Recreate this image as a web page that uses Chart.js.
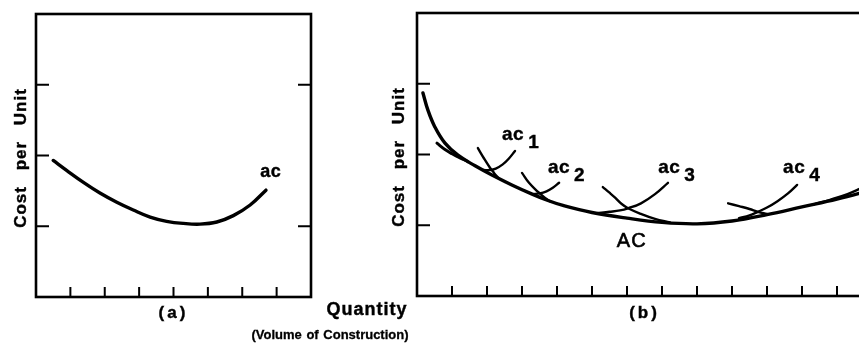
<!DOCTYPE html>
<html><head><meta charset="utf-8">
<script src="https://cdn.jsdelivr.net/npm/chart.js@4.4.1/dist/chart.umd.min.js"></script>
<style>
html,body{margin:0;padding:0;background:#fff;overflow:hidden;}
#wrap{position:relative;width:859px;height:347px;overflow:hidden;background:#fff;}
#cA{position:absolute;left:0;top:0;}
#cB{position:absolute;left:240px;top:0;}
</style></head><body>
<div id="wrap"><canvas id="cA" width="330" height="347"></canvas><canvas id="cB" width="650" height="347"></canvas></div>
<script>
// ---------- Panel (a) data ----------
const acA_x = [0.50,0.89,1.38,1.86,2.35,2.83,3.32,3.80,4.29,4.77,5.26,5.74,6.23,6.69];
const acA_y = [1.93,1.79,1.62,1.47,1.34,1.23,1.13,1.07,1.04,1.03,1.06,1.15,1.30,1.51];
const A_xTicks = [1,2,3,4,5,6,7];
const A_yTicksLeft = [1,2,3];
const A_yTicksRight = [1,3];

// ---------- Panel (b) data ----------
const AC_x = [0.17,0.31,0.51,0.80,1.17,1.66,2.14,2.71,3.29,3.74,4.17,5.0,6.0,7.0,8.0,9.0,10.0,11.0,12.0,13.0];
const AC_y = [2.87,2.63,2.39,2.16,1.99,1.84,1.71,1.57,1.44,1.35,1.28,1.18,1.10,1.04,1.02,1.06,1.15,1.26,1.37,1.50];
const ac0_x = [0.57,0.80,1.00,1.20,1.45];
const ac0_y = [2.16,2.07,2.01,1.96,1.90];
const ac1Fall_x = [1.74,1.92,2.09,2.20,2.32];
const ac1Fall_y = [2.09,1.94,1.81,1.74,1.67];
const ac1Rise_x = [1.90,2.08,2.25,2.45,2.62,2.80];
const ac1Rise_y = [1.78,1.78,1.80,1.86,1.94,2.05];
const ac2Fall_x = [3.00,3.20,3.46,3.65,3.80];
const ac2Fall_y = [1.74,1.60,1.47,1.39,1.34];
const ac2Rise_x = [3.30,3.50,3.70,3.88,4.06];
const ac2Rise_y = [1.44,1.45,1.48,1.53,1.60];
const ac3Fall_x = [5.31,5.50,5.66,5.85,6.03,6.40,6.80,7.23];
const ac3Fall_y = [1.54,1.46,1.39,1.30,1.24,1.16,1.09,1.04];
const ac3Rise_x = [5.14,5.50,5.80,6.03,6.40,6.80,7.17];
const ac3Rise_y = [1.17,1.19,1.21,1.24,1.31,1.44,1.60];
const ac4Fall_x = [8.89,9.20,9.50,9.74,10.0];
const ac4Fall_y = [1.31,1.27,1.23,1.19,1.16];
const ac4Rise_x = [9.20,9.50,9.74,10.0,10.3,10.6,10.86];
const ac4Rise_y = [1.10,1.14,1.19,1.25,1.34,1.45,1.57];
const ac5_x = [11.3,11.8,12.3,12.63,13.0];
const ac5_y = [1.29,1.36,1.44,1.51,1.60];
const B_xTicks = [1,2,3,4,5,6,7,8,9,10,11,12];
const B_yTicksLeft = [1,2,3];
const B_yTicksRight = [1,2,3];

// text
const yTitle = 'Cost per Unit';
const xTitleA = '(a)';
const xTitleB = '(b)';
const quantityText = 'Quantity';
const volumeText = '(Volume of Construction)';
const labelA = {text:'ac', x:6.52, y:1.70};
const labelsB = [
  {text:'ac', sub:'1', x:2.43, y:2.20},
  {text:'ac', sub:'2', x:3.74, y:1.74},
  {text:'ac', sub:'3', x:6.89, y:1.74},
  {text:'ac', sub:'4', x:10.46, y:1.74}
];
const labelAC = {text:'AC', x:5.71, y:0.69};

const FONT = '"Liberation Sans", Arial, Helvetica, sans-serif';
const pts = (xs, ys) => xs.map((x,i)=>({x, y: ys[i]}));
function ds(xs, ys, w){
  return {data: pts(xs,ys), borderColor:'#000', borderWidth:w, pointRadius:0,
          fill:false, tension:0.4, borderCapStyle:'round', borderJoinStyle:'round'};
}
function txt(ctx, s, x, y, font, align, spacing, wordSp, strokeW){
  ctx.save();
  ctx.font = font;
  ctx.fillStyle = '#000';
  ctx.strokeStyle = '#000';
  ctx.textAlign = align || 'left';
  ctx.textBaseline = 'alphabetic';
  if ('letterSpacing' in ctx) ctx.letterSpacing = (spacing||0) + 'px';
  if ('wordSpacing' in ctx) ctx.wordSpacing = (wordSp||0) + 'px';
  ctx.fillText(s, x, y);
  if (strokeW){ ctx.lineWidth = strokeW; ctx.strokeText(s, x, y); }
  ctx.restore();
}
function frameAndTicks(chart, xt, yl, yr, lenX, lenY){
  const {ctx, chartArea:a, scales:{x, y}} = chart;
  ctx.save();
  ctx.strokeStyle = '#000';
  ctx.lineWidth = 2.6;
  ctx.strokeRect(a.left, a.top, a.right - a.left, a.bottom - a.top);
  ctx.lineWidth = 2;
  ctx.beginPath();
  xt.forEach(v => { const px = x.getPixelForValue(v); ctx.moveTo(px, a.bottom); ctx.lineTo(px, a.bottom - lenX); });
  yl.forEach(v => { const py = y.getPixelForValue(v); ctx.moveTo(a.left, py); ctx.lineTo(a.left + lenY, py); });
  yr.forEach(v => { const py = y.getPixelForValue(v); ctx.moveTo(a.right, py); ctx.lineTo(a.right - lenY, py); });
  ctx.stroke();
  ctx.restore();
}
function rotTitle(ctx, s, cx, cy){
  ctx.save();
  ctx.translate(cx, cy);
  ctx.rotate(-Math.PI/2);
  txt(ctx, s, 0, 6, 'bold 17px ' + FONT, 'center', 1, 10, 0.4);
  ctx.restore();
}

const baseOpts = (xmax, pad) => ({
  responsive:false, animation:false, devicePixelRatio:1,
  layout:{padding:pad},
  plugins:{legend:{display:false}, tooltip:{enabled:false}},
  scales:{
    x:{type:'linear', min:0, max:xmax, display:false},
    y:{type:'linear', min:0, max:4, display:false}
  }
});

new Chart(document.getElementById('cA'), {
  type:'line',
  data:{datasets:[ds(acA_x, acA_y, 3.4)]},
  options: baseOpts(8, {left:36, right:19, top:14, bottom:50}),
  plugins:[{id:'decoA', afterDraw(chart){
    const ctx = chart.ctx, s = chart.scales;
    frameAndTicks(chart, A_xTicks, A_yTicksLeft, A_yTicksRight, 10, 13);
    rotTitle(ctx, yTitle, 20, 158);
    txt(ctx, labelA.text, s.x.getPixelForValue(labelA.x), s.y.getPixelForValue(labelA.y), 'bold 18px ' + FONT, 'left', 0.5, 0, 0.4);
    const a = chart.chartArea;
    txt(ctx, xTitleA, (a.left + a.right)/2, 318, 'bold 17px ' + FONT, 'center', 3, 0, 0.4);
  }}]
});

new Chart(document.getElementById('cB'), {
  type:'line',
  data:{datasets:[
    ds(AC_x, AC_y, 3.4), ds(ac0_x, ac0_y, 3),
    ds(ac1Fall_x, ac1Fall_y, 2.4), ds(ac1Rise_x, ac1Rise_y, 2.4),
    ds(ac2Fall_x, ac2Fall_y, 2.4), ds(ac2Rise_x, ac2Rise_y, 2.4),
    ds(ac3Fall_x, ac3Fall_y, 2.4), ds(ac3Rise_x, ac3Rise_y, 2.4),
    ds(ac4Fall_x, ac4Fall_y, 2.4), ds(ac4Rise_x, ac4Rise_y, 2.4),
    ds(ac5_x, ac5_y, 2.4)
  ]},
  options: baseOpts(13, {left:177, right:18, top:13, bottom:51}),
  plugins:[{id:'decoB', afterDraw(chart){
    const ctx = chart.ctx, s = chart.scales, a = chart.chartArea;
    frameAndTicks(chart, B_xTicks, B_yTicksLeft, B_yTicksRight, 10, 13);
    rotTitle(ctx, yTitle, 158, 157);
    const f = 'bold 19px ' + FONT;
    labelsB.forEach(l => {
      const px = s.x.getPixelForValue(l.x), py = s.y.getPixelForValue(l.y);
      txt(ctx, l.text, px, py, f, 'left', 0.5, 0, 0.4);
      ctx.save(); ctx.font = f; const w = ctx.measureText(l.text).width; ctx.restore();
      txt(ctx, l.sub, px + w + 5, py + 8, f, 'left', 0, 0, 0.4);
    });
    txt(ctx, labelAC.text, s.x.getPixelForValue(labelAC.x), s.y.getPixelForValue(labelAC.y), '20px ' + FONT, 'left', 1, 0, 0.6);
    txt(ctx, xTitleB, (a.left + a.right)/2, 318, 'bold 17px ' + FONT, 'center', 3, 0, 0.4);
    txt(ctx, quantityText, 127, 315, 'bold 18px ' + FONT, 'center', 1, 0, 0.4);
    txt(ctx, volumeText, 90, 339, 'bold 13px ' + FONT, 'center', 0, 1, 0.3);
  }}]
});
</script>
</body></html>
